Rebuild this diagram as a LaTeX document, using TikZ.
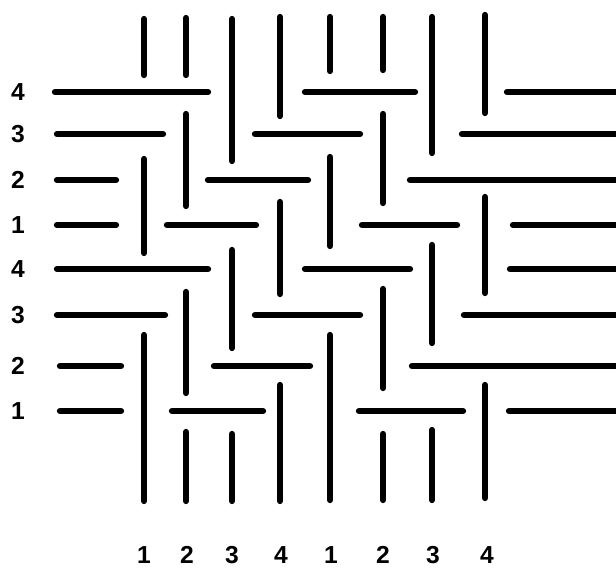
\documentclass[tikz,border=0pt]{standalone}
\usepackage{fontspec}
\setsansfont{Liberation Sans}
\usepackage{tikz}

\begin{document}
\begin{tikzpicture}[
  x=0.03cm, y=-0.03cm,
  yarn/.style={line width=5.4pt, line cap=round},
  lbl/.style={font=\sffamily\bfseries\fontsize{21}{25}\selectfont, inner sep=0pt}
]

\useasboundingbox (0,0) rectangle (616,572);

% weft yarns (rows)
\foreach \y/\segs in {92/{53/210,303/417,505/620},
                      134/{55/165,253/362,460/620},
                      180/{55/118,206/310,408/620},
                      225/{55/118,165/258,360/459,511/620},
                      269/{55/210,303/412,508/620},
                      315/{55/167,253/362,462/620},
                      366/{58/123,212/312,410/620},
                      411/{58/123,170/265,357/465,507/620}}
  \foreach \a/\b in \segs
    \draw[yarn] (\a+2,\y) -- (\b-2,\y);

% warp yarns (columns)
\foreach \x/\segs in {144/{17/77,157/255,333/503},
                      186/{16/77,112/208,290/395,430/503},
                      232/{17/163,248/350,432/503},
                      280/{15/118,200/296,383/503},
                      330/{15/73,155/248,333/502},
                      383/{15/72,112/205,287/390,432/502},
                      432/{15/155,243/345,428/502},
                      485/{13/115,195/295,383/500}}
  \foreach \a/\b in \segs
    \draw[yarn] (\x,\a+2) -- (\x,\b-2);

% row numbers
\foreach \n/\y [count=\i] in {4/92,3/134,2/180,1/225,4/269,3/315,2/366,1/411}
  \node[lbl] (row\i) at (18,\y) {\n};

% column numbers
\foreach \n/\x [count=\i] in {1/144,2/187,3/232,4/281,1/331,2/383,3/433,4/487}
  \node[lbl] (col\i) at (\x,555) {\n};

\end{tikzpicture}
\end{document}
